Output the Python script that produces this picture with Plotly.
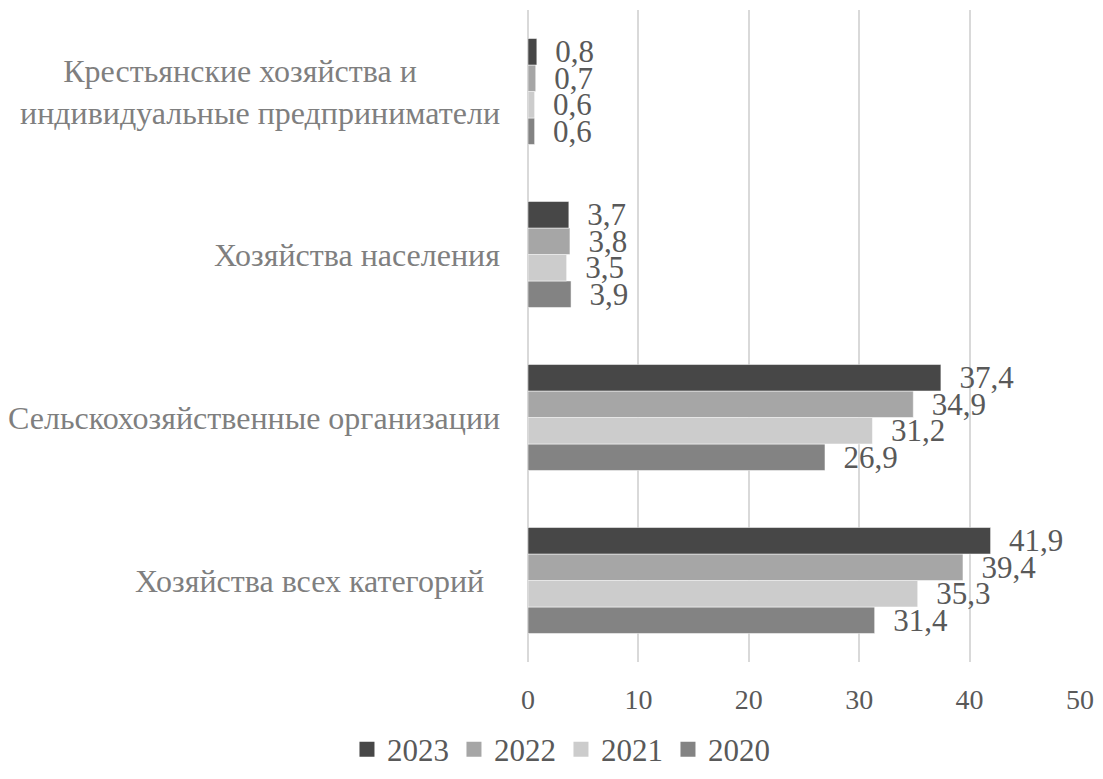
import plotly.graph_objects as go

categories = [
    "Хозяйства всех категорий",
    "Сельскохозяйственные организации",
    "Хозяйства населения",
    "Крестьянские хозяйства и индивидуальные предприниматели",
]
cat_labels = [
    "Хозяйства всех категорий\u00a0\u00a0",
    "Сельскохозяйственные организации",
    "Хозяйства населения",
    "Крестьянские хозяйства и\u00a0\u00a0\u00a0\u00a0\u00a0<br>индивидуальные предприниматели",
]
years = ["2020", "2021", "2022", "2023"]
values = {
    "2020": [31.4, 26.9, 3.9, 0.6],
    "2021": [35.3, 31.2, 3.5, 0.6],
    "2022": [39.4, 34.9, 3.8, 0.7],
    "2023": [41.9, 37.4, 3.7, 0.8],
}
colors = {"2020": "#838383", "2021": "#cccccc", "2022": "#a6a6a6", "2023": "#474747"}

FONT = "Liberation Serif"

fig = go.Figure()
for y in years:
    vals = values[y]
    fig.add_trace(go.Bar(
        name=y,
        y=categories,
        x=vals,
        orientation="h",
        marker=dict(color=colors[y], line=dict(color="rgba(255,255,255,0.5)", width=1)),
        text=["\u00a0\u00a0" + f"{v:.1f}".replace(".", ",") for v in vals],
        textposition="outside",
        textfont=dict(family=FONT, size=31, color="#595959"),
        cliponaxis=False,
        constraintext="none",
        showlegend=False,
        legendgroup=y,
    ))
# legend entries with larger square symbols
for y in years:
    fig.add_trace(go.Scatter(
        name=y, x=[None], y=[None], mode="markers",
        marker=dict(symbol="square", size=15, color=colors[y]),
        legendgroup=y, showlegend=True,
    ))

for cat, lab in zip(categories, cat_labels):
    fig.add_annotation(
        x=0, xref="paper", y=cat, yref="y",
        text=lab, showarrow=False, xanchor="right", yanchor="middle",
        align="center", xshift=-26,
        font=dict(family=FONT, size=32, color="#7f7f7f"),
    )

fig.update_layout(
    width=1095, height=771,
    barmode="group", bargap=0.35, bargroupgap=0,
    plot_bgcolor="white", paper_bgcolor="white",
    margin=dict(l=520, r=23, t=2, b=117),
    font=dict(family=FONT, size=28, color="#595959"),
    showlegend=True,
    legend=dict(
        orientation="h", traceorder="reversed",
        xref="container", yref="container",
        x=0.505, xanchor="center", y=0.003, yanchor="bottom",
        font=dict(family=FONT, size=31, color="#595959"),
        itemwidth=30,
    ),
    xaxis=dict(
        range=[0, 50], dtick=10, showgrid=True, gridcolor="#d9d9d9", gridwidth=1.5,
        zeroline=True, zerolinecolor="#d9d9d9", zerolinewidth=1.5,
        showline=False, ticks="", ticklabelstandoff=18,
        tickfont=dict(family=FONT, size=28, color="#595959"),
    ),
    yaxis=dict(
        type="category", categoryorder="array", categoryarray=categories,
        showticklabels=False, showgrid=False, zeroline=False, showline=False,
    ),
)

fig.write_html("out.html")
